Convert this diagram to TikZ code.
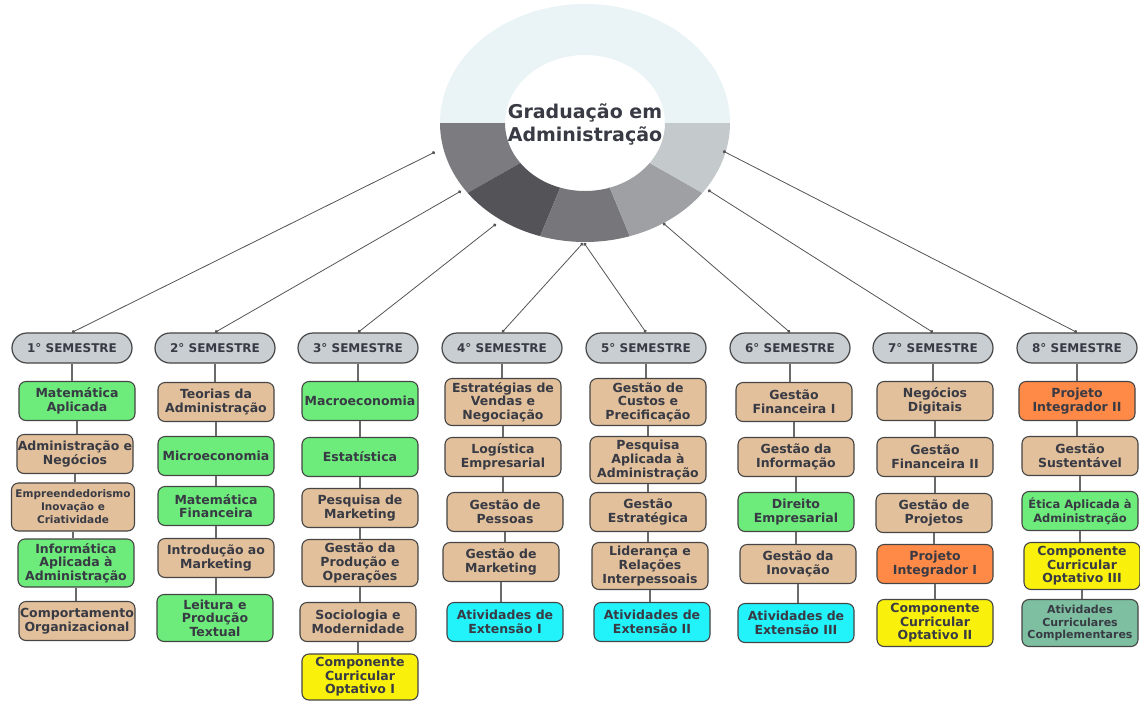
\documentclass[tikz,border=0pt]{standalone}
\usepackage{fontspec}
\setmainfont{DejaVu Sans}
\usetikzlibrary{arrows.meta,shapes.misc}
\definecolor{ringtop}{HTML}{EAF3F5}
\definecolor{segA}{HTML}{7B7B80}
\definecolor{segB}{HTML}{545358}
\definecolor{segC}{HTML}{77777B}
\definecolor{segD}{HTML}{9EA0A3}
\definecolor{segE}{HTML}{C4C9CB}
\definecolor{txt}{HTML}{383A44}
\definecolor{pillfill}{HTML}{C9CED2}
\definecolor{cgreen}{HTML}{6DEB7B}
\definecolor{ctan}{HTML}{E2C09B}
\definecolor{ccyan}{HTML}{22F3FB}
\definecolor{cyellow}{HTML}{F9F10C}
\definecolor{corange}{HTML}{FF8A47}
\definecolor{cteal}{HTML}{7DBFA0}
\definecolor{bord}{HTML}{454545}
\definecolor{vl}{HTML}{6A6A6A}
\definecolor{lk}{HTML}{555555}
\newcommand{\bxfont}{\bfseries\fontsize{12.5}{13.6}\selectfont}
\tikzset{
  pill/.style={rounded rectangle, draw=bord, line width=1.2pt, fill=pillfill,
    minimum width=120pt, minimum height=30pt, inner sep=0pt, text=txt,
    font=\bfseries\fontsize{12}{13}\selectfont},
  box/.style={draw=bord, line width=1.1pt, rounded corners=7pt, minimum width=116pt,
    minimum height=39pt, align=center, inner sep=0pt, text=txt, font=\bxfont},
  tall/.style={minimum height=47pt},
  gr/.style={box, fill=cgreen},
  tn/.style={box, fill=ctan},
  cy/.style={box, fill=ccyan},
  ye/.style={box, fill=cyellow},
  orr/.style={box, fill=corange},
  te/.style={box, fill=cteal},
  vline/.style={draw=vl, line width=1.3pt},
  link/.style={draw=lk, line width=0.8pt, {Circle[length=3.2pt]}-{Circle[length=3.2pt]}},
}
\begin{document}
\begin{tikzpicture}[x=1pt,y=-1pt]
\useasboundingbox (0,0) rectangle (1140,702);
\fill[white] (0,0) rectangle (1140,702);
% ring
\def\cx{585}\def\cy{123}
\foreach \a/\b/\c in {180/360/ringtop,144/180/segA,108/144/segB,72/108/segC,36/72/segD,0/36/segE}{
  \fill[\c] ([shift={(\cx,\cy)}]\a:145 and 119) arc[start angle=\a,end angle=\b,x radius=145,y radius=119]
    -- ([shift={(\cx,\cy)}]\b:80 and 68) arc[start angle=\b,end angle=\a,x radius=80,y radius=68] -- cycle;
}
\node[text=txt, align=center, font=\bfseries\fontsize{19}{23}\selectfont] (title) at (585,124) {Graduação em\\Administração};
% ring anchor points
\coordinate (r1) at (435,152);
\coordinate (r2) at (461,191);
\coordinate (r3) at (496,224);
\coordinate (r4) at (583,243);
\coordinate (r5) at (584,243);
\coordinate (r6) at (663,223);
\coordinate (r7) at (708,190);
\coordinate (r8) at (723,151);
% semesters
\node[pill] (s1) at (72,348) {1° SEMESTRE};
\node[pill] (s2) at (215,348) {2° SEMESTRE};
\node[pill] (s3) at (358,348) {3° SEMESTRE};
\node[pill] (s4) at (502,348) {4° SEMESTRE};
\node[pill] (s5) at (646,348) {5° SEMESTRE};
\node[pill] (s6) at (790,348) {6° SEMESTRE};
\node[pill] (s7) at (933,348) {7° SEMESTRE};
\node[pill] (s8) at (1077,348) {8° SEMESTRE};
% column 1
\node[gr] (a11) at (77,401) {Matemática\\Aplicada};
\node[tn] (a12) at (75,454) {Administração e\\Negócios};
\node[tn, minimum width=123pt, minimum height=48pt, font=\bfseries\fontsize{10.5}{13}\selectfont] (a13) at (73,507) {Empreendedorismo\\Inovação e\\Criatividade};
\node[gr, minimum height=48pt] (a14) at (76,563) {Informática\\Aplicada à\\Administração};
\node[tn] (a15) at (77,621) {Comportamento\\Organizacional};
% column 2
\node[tn] (a21) at (216,402) {Teorias da\\Administração};
\node[gr] (a22) at (216,456) {Microeconomia};
\node[gr] (a23) at (216,506) {Matemática\\Financeira};
\node[tn] (a24) at (216,558) {Introdução ao\\Marketing};
\node[gr, tall] (a25) at (215,618) {Leitura e\\Produção\\Textual};
% column 3
\node[gr] (a31) at (360,401) {Macroeconomia};
\node[gr] (a32) at (360,457) {Estatística};
\node[tn] (a33) at (360,508) {Pesquisa de\\Marketing};
\node[tn, tall] (a34) at (360,563) {Gestão da\\Produção e\\Operações};
\node[tn] (a35) at (358,622) {Sociologia e\\Modernidade};
\node[ye, minimum height=46pt] (a36) at (360,677) {Componente\\Curricular\\Optativo I};
% column 4
\node[tn, tall] (a41) at (503,402) {Estratégias de\\Vendas e\\Negociação};
\node[tn] (a42) at (503,457) {Logística\\Empresarial};
\node[tn] (a43) at (505,512) {Gestão de\\Pessoas};
\node[tn] (a44) at (501,562) {Gestão de\\Marketing};
\node[cy] (a45) at (505,622) {Atividades de\\Extensão I};
% column 5
\node[tn, tall] (a51) at (648,402) {Gestão de\\Custos e\\Precificação};
\node[tn, tall] (a52) at (648,460) {Pesquisa\\Aplicada à\\Administração};
\node[tn] (a53) at (648,512) {Gestão\\Estratégica};
\node[tn, tall] (a54) at (650,566) {Liderança e\\Relações\\Interpessoais};
\node[cy] (a55) at (652,622) {Atividades de\\Extensão II};
% column 6
\node[tn] (a61) at (794,402) {Gestão\\Financeira I};
\node[tn] (a62) at (796,457) {Gestão da\\Informação};
\node[gr] (a63) at (796,512) {Direito\\Empresarial};
\node[tn] (a64) at (798,564) {Gestão da\\Inovação};
\node[cy] (a65) at (796,623) {Atividades de\\Extensão III};
% column 7
\node[tn] (a71) at (935,401) {Negócios\\Digitais};
\node[tn] (a72) at (935,457) {Gestão\\Financeira II};
\node[tn] (a73) at (934,513) {Gestão de\\Projetos};
\node[orr] (a74) at (935,564) {Projeto\\Integrador I};
\node[ye, tall] (a75) at (935,623) {Componente\\Curricular\\Optativo II};
% column 8
\node[orr] (a81) at (1077,401) {Projeto\\Integrador II};
\node[tn] (a82) at (1080,456) {Gestão\\Sustentável};
\node[gr, font=\bfseries\fontsize{11.5}{13.6}\selectfont] (a83) at (1080,511) {Ética Aplicada à\\Administração};
\node[ye, tall] (a84) at (1082,566) {Componente\\Curricular\\Optativo III};
\node[te, tall, font=\bfseries\fontsize{11}{12.5}\selectfont] (a85) at (1080,623) {Atividades\\Curriculares\\Complementares};
% vertical connectors
\foreach \c in {1,...,8}{
  \draw[vline] (s\c.south) -- (s\c.south |- a\c1.north);
}
\foreach \p/\q in {a11/a12,a12/a13,a13/a14,a14/a15,
  a21/a22,a22/a23,a23/a24,a24/a25,
  a31/a32,a32/a33,a33/a34,a34/a35,a35/a36,
  a41/a42,a42/a43,a43/a44,a44/a45,
  a51/a52,a52/a53,a53/a54,a54/a55,
  a61/a62,a62/a63,a63/a64,a64/a65,
  a71/a72,a72/a73,a73/a74,a74/a75,
  a81/a82,a82/a83,a83/a84,a84/a85}{
  \draw[vline] (\p.south) -- (\p.south |- \q.north);
}
% links to ring
\foreach \c in {1,...,8}{
  \draw[link] (s\c.north) -- (r\c);
}
\end{tikzpicture}
\end{document}
